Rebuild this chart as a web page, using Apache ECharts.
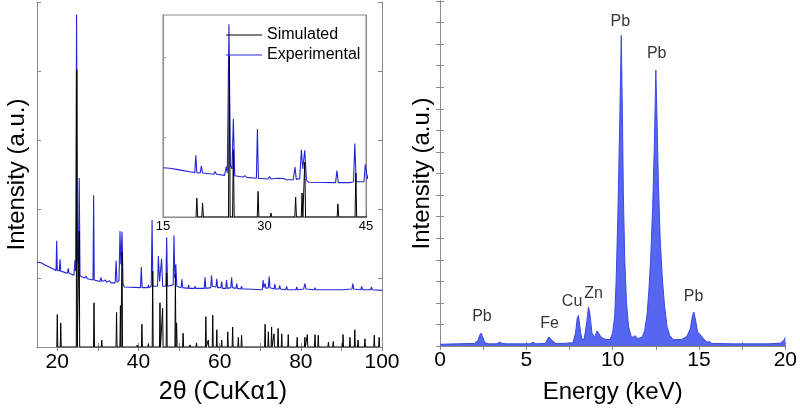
<!DOCTYPE html>
<html>
<head>
<meta charset="utf-8">
<script src="https://cdn.jsdelivr.net/npm/echarts@6/dist/echarts.min.js"></script>
<style>html,body{margin:0;padding:0;background:#fff}#c{width:800px;height:410px}</style>
</head>
<body>
<div id="c"></div>
<script>
// ---------- XRD: simulated stick pattern (2θ position, intensity a.u.) ----------
const simPos = [20.0, 20.85, 24.8, 25.4, 29.05, 30.95, 34.6, 35.55, 35.95, 39.7, 40.85, 42.45, 43.5, 45.3, 45.95, 46.95, 49.1, 49.4, 51.0, 52.7, 54.3, 56.6, 57.2, 58.3, 59.3, 60.5, 62.0, 63.2, 64.6, 65.4, 69.9, 71.2, 72.0, 72.8, 73.4, 74.4, 75.3, 76.9, 79.1, 81.0, 81.6, 83.5, 84.3, 86.8, 88.0, 90.4, 92.1, 93.3, 94.1, 95.8, 98.1, 99.3];
const simInt = [0.47, 0.35, 4.02, 1.68, 0.64, 0.1, 0.5, 0.6, 1.37, 0.03, 0.33, 0.05, 1.1, 0.64, 0.56, 1.07, 1.05, 0.35, 0.2, 0.03, 0.06, 0.44, 0.1, 0.46, 0.25, 0.1, 0.22, 0.29, 0.14, 0.17, 0.02, 0.33, 0.22, 0.29, 0.19, 0.27, 0.19, 0.18, 0.14, 0.14, 0.18, 0.18, 0.17, 0.07, 0.08, 0.18, 0.14, 0.25, 0.1, 0.12, 0.17, 0.14];

// ---------- XRD: experimental pattern [2θ, intensity] ----------
const experimental = [
  [15,1.23],[16,1.22],[17,1.19],[18,1.16],[19,1.13],
  [19.7,1.11],[19.85,1.54],[20.0,1.11],[20.5,1.1],[20.67,1.27],[20.85,1.1],
  [22.5,1.07],[22.7,1.14],[22.9,1.07],
  [24.1,1.04],[24.35,1.26],[24.5,1.1],[24.75,4.82],[24.95,1.3],[25.2,1.2],[25.4,2.45],[25.6,1.03],
  [26.8,1.0],[27.1,1.03],[27.4,0.99],[28.8,0.97],[28.95,2.2],[29.1,0.97],
  [30.5,0.95],[30.75,1.01],[30.95,0.95],[31.9,0.97],[32.1,0.94],[32.9,0.96],[33.2,0.93],
  [34.25,0.93],[34.5,1.25],[34.7,0.94],[35.2,0.96],[35.45,1.68],[35.65,1.2],[35.95,1.67],[36.2,0.92],[36.5,0.87],
  [40.5,0.86],[40.7,1.16],[40.9,0.86],[42.3,0.86],[42.45,0.9],[42.6,0.86],
  [43.15,0.88],[43.35,1.84],[43.55,0.88],[44.7,0.88],[44.9,1.32],[45.2,0.95],[45.7,1.28],[45.95,0.88],
  [46.75,0.88],[46.95,1.59],[47.15,0.88],[48.55,0.9],[48.75,1.62],[48.95,1.0],[49.2,1.2],[49.45,0.88],
  [50.5,0.86],[50.7,0.98],[50.9,0.86],[52.2,0.85],[52.35,0.9],[52.5,0.85],[53.8,0.85],[53.95,0.88],[54.1,0.85],
  [56.2,0.85],[56.4,1.01],[56.6,0.85],[57.8,0.86],[58.0,1.04],[58.2,0.88],[59.1,0.87],[59.3,0.99],[59.5,0.86],
  [60.3,0.86],[60.5,0.95],[60.7,0.85],[61.5,0.85],[61.7,0.97],[61.9,0.85],[62.75,0.86],[62.95,1.01],[63.15,0.86],
  [64.0,0.85],[64.2,0.92],[64.4,0.85],[65.2,0.84],[65.4,0.88],[65.6,0.84],[66.5,0.84],
  [70.5,0.83],[70.7,0.97],[70.9,0.86],[71.2,0.92],[71.4,0.85],[72.0,0.86],[72.2,1.02],[72.4,0.86],
  [73.4,0.84],[73.6,0.91],[73.8,0.84],[74.6,0.84],[74.8,0.89],[75.0,0.84],[76.3,0.83],[76.5,0.88],[76.7,0.83],
  [78.8,0.83],[79.0,0.87],[79.2,0.83],[80.7,0.84],[81.0,0.92],[81.3,0.84],[83.3,0.83],[83.5,0.86],[83.7,0.83],
  [86.2,0.83],[86.4,0.85],[86.6,0.83],[90.1,0.83],[90.3,0.85],[90.5,0.83],[92.6,0.84],[92.8,0.92],[93.0,0.84],
  [94.8,0.83],[95.0,0.88],[95.2,0.83],[97.2,0.83],[97.4,0.87],[97.6,0.83],[100,0.82]
];

// ---------- EDS spectrum [energy keV, intensity] ----------
const eds = [
  [0,0.08],[1.0,0.1],[2.0,0.12],[2.2,0.25],[2.3,0.5],[2.38,0.6],[2.48,0.4],[2.6,0.15],[2.8,0.1],
  [3.3,0.1],[3.45,0.18],[3.6,0.12],[3.7,0.17],[3.85,0.1],[5.2,0.1],[5.4,0.17],[5.55,0.1],
  [6.1,0.12],[6.3,0.42],[6.38,0.45],[6.5,0.25],[6.7,0.12],[6.95,0.12],[7.05,0.18],[7.15,0.12],
  [7.7,0.15],[7.85,0.6],[7.95,1.3],[8.02,1.42],[8.1,0.9],[8.2,0.35],[8.35,0.3],[8.5,1.1],[8.6,1.81],[8.68,1.5],
  [8.8,0.6],[8.95,0.4],[9.1,0.7],[9.18,0.73],[9.3,0.45],[9.45,0.35],[9.54,0.42],[9.65,0.3],[9.85,0.3],
  [10.0,0.6],[10.12,1.4],[10.2,3],[10.3,6],[10.4,10],[10.5,14.4],[10.56,11],[10.62,7],[10.7,4],[10.8,2],[10.92,0.9],[11.05,0.5],
  [11.15,0.4],[11.3,0.48],[11.45,0.35],[11.7,0.4],[11.85,0.7],[12.0,1.5],[12.1,2.6],[12.2,4],[12.32,6.5],[12.42,9.5],
  [12.5,12.8],[12.57,10.5],[12.65,7.5],[12.75,5],[12.87,3.2],[13.0,1.9],[13.15,0.9],[13.3,0.5],[13.5,0.3],
  [14.0,0.3],[14.3,0.45],[14.5,0.8],[14.62,1.4],[14.7,1.58],[14.8,1.2],[14.92,0.65],[15.05,0.55],[15.12,0.6],
  [15.25,0.35],[15.45,0.18],[15.6,0.2],[15.75,0.12],[17,0.1],[19,0.1],[19.7,0.13],[19.9,0.25],[20,0.4]
];

// ---------- EDS element annotations ----------
const edsLabels = [
  {name:'Pb', x:2.43, y:1.38}, {name:'Fe', x:6.35, y:1.05}, {name:'Cu', x:7.65, y:2.07},
  {name:'Zn', x:8.9, y:2.45}, {name:'Pb', x:10.44, y:15.05}, {name:'Pb', x:12.55, y:13.58},
  {name:'Pb', x:14.69, y:2.31}
];

const xrdLabelTicks = [20, 40, 60, 80, 100];
const xrdMinorTicks = [20, 30, 40, 50, 60, 70, 80, 90, 100];
const edsLabelTicks = [0, 5, 10, 15, 20];
const edsTicks = [0, 2.5, 5, 7.5, 10, 12.5, 15, 17.5, 20];

const FONT = '"Liberation Sans", Arial, sans-serif';
const GREY = '#8a8a8a';
const BLUE = '#2626d6';

function sticks(pos, h, w) {
  const d = [];
  pos.forEach((p, i) => { d.push([p - w, 0], [p, h[i]], [p + w, 0]); });
  return d;
}
const simData = sticks(simPos, simInt, 0.12);

const lineAx = {show: true, lineStyle: {color: GREY, width: 1}};
function xAx(grid, min, max, opts) {
  return Object.assign({
    type: 'value', gridIndex: grid, min, max,
    axisLine: lineAx, splitLine: {show: false},
    axisTick: {inside: true, length: 4, lineStyle: {color: GREY}},
    axisLabel: {show: false}
  }, opts);
}
function yAx(grid, min, max, opts) {
  return Object.assign({
    type: 'value', gridIndex: grid, min, max,
    axisLine: lineAx, splitLine: {show: false},
    axisTick: {inside: true, length: 4, lineStyle: {color: GREY}},
    axisLabel: {show: false}
  }, opts);
}

const chart = echarts.init(document.getElementById('c'), null, {renderer: 'canvas'});
chart.setOption({
  animation: false,
  backgroundColor: '#fff',
  textStyle: {fontFamily: FONT},
  grid: [
    {left: 37, top: 2, width: 345, height: 345},
    {left: 163, top: 15, width: 203, height: 202, show: true, backgroundColor: '#fff', borderColor: GREY, z: 5},
    {left: 440, top: 1, width: 346, height: 345}
  ],
  xAxis: [
    xAx(0, 15, 100, {
      axisTick: {inside: true, length: 4, lineStyle: {color: GREY}, customValues: xrdMinorTicks},
      axisLabel: {show: true, customValues: xrdLabelTicks, fontSize: 21, color: '#000', margin: 5, fontFamily: FONT},
      name: '2θ (CuKα1)', nameLocation: 'middle', nameGap: 33,
      nameTextStyle: {fontSize: 25, color: '#000', fontFamily: FONT, padding: [0, 0, 0, 27]}
    }),
    xAx(0, 15, 100, {position: 'top', axisTick: {inside: true, length: 4, lineStyle: {color: GREY}, customValues: xrdMinorTicks}}),
    xAx(1, 15, 45, {
      interval: 15, z: 6,
      axisTick: {show: false},
      axisLabel: {show: true, fontSize: 13, color: '#000', margin: 3, fontFamily: FONT}
    }),
    xAx(1, 15, 45, {position: 'top', axisTick: {show: false}, z: 6}),
    xAx(2, 0, 20, {
      axisTick: {inside: true, length: 4, lineStyle: {color: GREY}, customValues: edsTicks},
      axisLabel: {show: true, customValues: edsLabelTicks, fontSize: 21, color: '#000', margin: 4, fontFamily: FONT},
      name: 'Energy (keV)', nameLocation: 'middle', nameGap: 34,
      nameTextStyle: {fontSize: 24, color: '#000', fontFamily: FONT}
    }),
    xAx(2, 0, 20, {position: 'top', axisTick: {inside: true, length: 4, lineStyle: {color: GREY}, customValues: edsTicks}})
  ],
  yAxis: [
    yAx(0, 0, 5, {
      interval: 1,
      name: 'Intensity (a.u.)', nameLocation: 'middle', nameGap: 8,
      nameTextStyle: {fontSize: 24, color: '#000', fontFamily: FONT}
    }),
    yAx(0, 0, 5, {interval: 1, position: 'right'}),
    yAx(1, 0, 5.05, {axisTick: {inside: true, length: 3, lineStyle: {color: GREY}, customValues: [0, 2, 4]}, z: 6}),
    yAx(1, 0, 5.05, {position: 'right', axisTick: {show: false}, z: 6}),
    yAx(2, 0, 16, {
      interval: 1,
      name: 'Intensity (a.u.)', nameLocation: 'middle', nameGap: 6,
      nameTextStyle: {fontSize: 24, color: '#000', fontFamily: FONT}
    }),
    yAx(2, 0, 16, {interval: 1, position: 'right'})
  ],
  legend: {
    orient: 'vertical', left: 226, top: 25, padding: 0, itemWidth: 36, itemHeight: 1, itemGap: 0,
    icon: 'rect', z: 10,
    textStyle: {fontSize: 16, color: '#000', fontFamily: FONT, lineHeight: 20},
    data: ['Simulated', 'Experimental'],
    selectedMode: false
  },
  series: [
    {type: 'line', name: 'Experimental', xAxisIndex: 0, yAxisIndex: 0, data: experimental,
     symbol: 'none', color: BLUE, lineStyle: {width: 1.1, color: BLUE}, z: 2},
    {type: 'line', name: 'Simulated', xAxisIndex: 0, yAxisIndex: 0, data: simData,
     symbol: 'none', color: '#000', lineStyle: {width: 1, color: '#000'}, z: 3},
    {type: 'line', name: 'Experimental', xAxisIndex: 2, yAxisIndex: 2, data: experimental,
     symbol: 'none', color: BLUE, lineStyle: {width: 1.1, color: BLUE}, z: 7, clip: true},
    {type: 'line', name: 'Simulated', xAxisIndex: 2, yAxisIndex: 2, data: simData,
     symbol: 'none', color: '#000', lineStyle: {width: 1, color: '#000'}, z: 8, clip: true},
    {type: 'line', name: 'EDS', xAxisIndex: 4, yAxisIndex: 4, data: eds,
     symbol: 'none', color: '#3a48e2', lineStyle: {width: 1, color: '#3a48e2'},
     areaStyle: {color: '#5566f0', opacity: 1}},
    {type: 'scatter', name: 'labels', xAxisIndex: 4, yAxisIndex: 4, symbolSize: 0,
     data: edsLabels.map(d => ({name: d.name, value: [d.x, d.y]})),
     label: {show: true, position: 'inside', formatter: p => p.name, fontSize: 16, color: '#000', fontFamily: FONT}}
  ]
});
</script>
</body>
</html>
